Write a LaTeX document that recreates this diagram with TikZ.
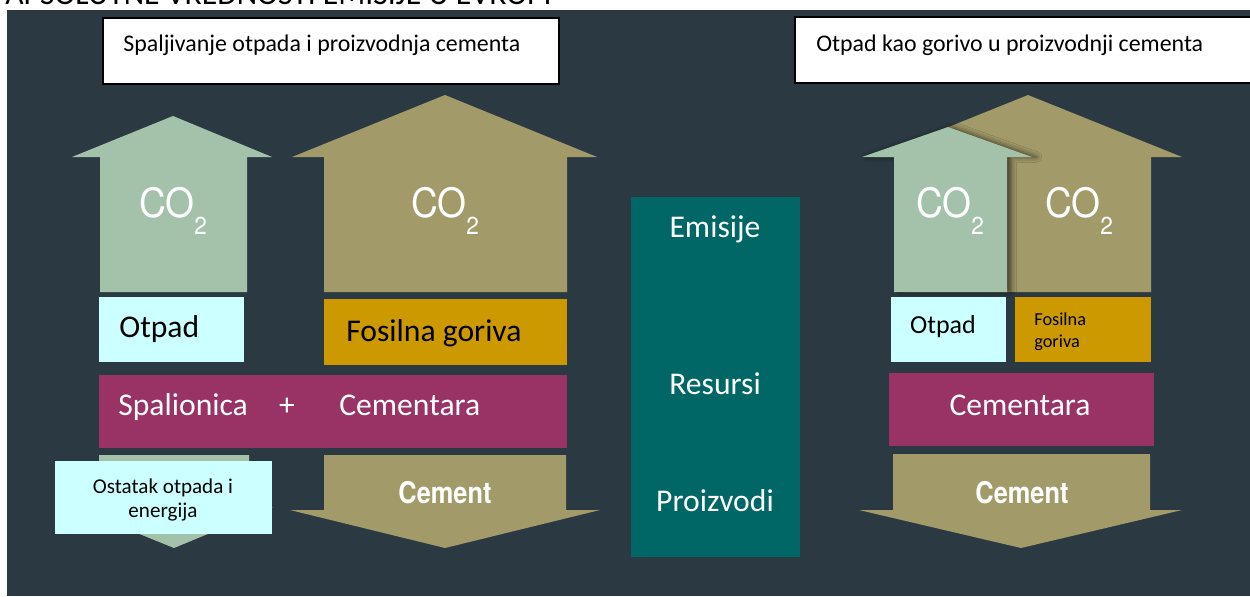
\documentclass[tikz,border=0pt]{standalone}
\usepackage{fontspec}
\setmainfont{Carlito}
\newfontfamily\cofont[FakeStretch=0.92]{TeX Gyre Heros}
\newfontfamily\cementfont[FakeStretch=0.85]{TeX Gyre Heros}
\usetikzlibrary{shadows.blur}
\definecolor{bgslate}{RGB}{43,58,66}
\definecolor{sage}{RGB}{164,194,170}
\definecolor{khaki}{RGB}{163,154,105}
\definecolor{paleaqua}{RGB}{204,255,255}
\definecolor{fuelgold}{RGB}{204,153,0}
\definecolor{plantplum}{RGB}{153,51,102}
\definecolor{legendteal}{RGB}{0,102,102}
\newcommand{\cotwo}{CO\raisebox{-10.2pt}{\fontsize{14}{15}\selectfont 2}}

\begin{document}
\begin{tikzpicture}[x=0.02cm,y=-0.02cm,
		titlebox/.style={draw=black, line width=1.1pt, fill=white, inner sep=0pt},
		fillbox/.style={draw=none, inner sep=0pt},
		bigtext/.style={font=\fontsize{18}{21}\selectfont},
		titletext/.style={font=\fontsize{13.6}{16}\selectfont, inner sep=0pt},
		cotext/.style={text=white, font=\cofont\fontsize{23}{25}\selectfont, inner sep=0pt},
		cementtext/.style={text=white, font=\cementfont\bfseries\fontsize{17}{19}\selectfont, inner sep=0pt}]
	\useasboundingbox (0,0) rectangle (1250,596);
	\begin{scope}
		\clip (0,0) rectangle (1250,10);
		\node[bigtext, anchor=base west, inner sep=0pt] (heading) at (5,4.5) {APSOLUTNE VREDNOSTI EMISIJE U EVROPI};
	\end{scope}
	\fill[bgslate] (7,10) rectangle (1250,596);

	\node[titlebox, minimum width=9.12cm, minimum height=1.32cm] (titleL) at (331,51) {};
	\node[titlebox, minimum width=9.16cm, minimum height=1.32cm] (titleR) at (1024,50) {};
	\node[titletext, anchor=west] (titleLtext) at (123,45) {Spaljivanje otpada i proizvodnja cementa};
	\node[titletext, anchor=west] (titleRtext) at (816,45) {Otpad kao gorivo u proizvodnji cementa};

	\fill[sage] (100,292) -- (100,157) -- (72,157) -- (173,116) -- (272,157) -- (247,157) -- (247,292) -- cycle;
	\fill[khaki] (324,292) -- (324,157) -- (292,157) -- (445,95) -- (597,157) -- (567,157) -- (567,292) -- cycle;
	\fill[sage] (99,455) -- (249,455) -- (249,507) -- (273,507) -- (174,548) -- (73,507) -- (99,507) -- cycle;
	\fill[khaki] (324,455) -- (566,455) -- (566,510) -- (600,510) -- (445,548) -- (290,510) -- (324,510) -- cycle;
	\fill[khaki] (905,292) -- (905,157) -- (874,157) -- (1028,95) -- (1182,157) -- (1151,157) -- (1151,292) -- cycle;
	\fill[sage, blur shadow={shadow xshift=2.5pt, shadow yshift=0pt, shadow blur radius=3pt, shadow opacity=60}] (894,292) -- (894,157) -- (862,157) -- (948,127) -- (1032,157) -- (1007,157) -- (1007,292) -- cycle;
	\fill[khaki] (893,454) -- (1150,454) -- (1150,510) -- (1182,510) -- (1021,548) -- (859,510) -- (893,510) -- cycle;

	\node[cotext, anchor=base] (coL1) at (173,217) {\cotwo};
	\node[cotext, anchor=base] (coL2) at (445,217) {\cotwo};
	\node[cotext, anchor=base] (coR1) at (950,217) {\cotwo};
	\node[cotext, anchor=base] (coR2) at (1079,217) {\cotwo};

	\node[fillbox, fill=paleaqua, minimum width=2.9cm, minimum height=1.3cm] (wasteL) at (171.5,329.5) {};
	\node[fillbox, fill=fuelgold, minimum width=4.86cm, minimum height=1.32cm] (fuelL) at (445.5,332) {};
	\node[fillbox, fill=plantplum, minimum width=9.36cm, minimum height=1.46cm] (plantL) at (333,411.5) {};
	\node[fillbox, fill=paleaqua, minimum width=4.34cm, minimum height=1.46cm] (restL) at (163.5,497.5) {};
	\node[bigtext, anchor=base west, inner sep=0pt] at (119,337) {Otpad};
	\node[bigtext, anchor=base west, inner sep=0pt] at (346,341) {Fosilna goriva};
	\node[bigtext, text=white, anchor=base west, inner sep=0pt] (incinerator) at (118,415) {Spalionica};
	\node[bigtext, text=white, anchor=base, inner sep=0pt] (plus) at (287,415) {+};
	\node[bigtext, text=white, anchor=base west, inner sep=0pt] (cementplantL) at (339,415) {Cementara};
	\node[align=center, font=\fontsize{12}{14.2}\selectfont, inner sep=0pt] (restLtext) at (163,500) {Ostatak otpada i\\energija};
	\node[cementtext] (cementL) at (445,493) {Cement};

	\node[fillbox, fill=legendteal, minimum width=3.38cm, minimum height=7.2cm] (legend) at (715.5,377) {};
	\node[bigtext, text=white, anchor=base, inner sep=0pt] (emissions) at (715,237) {Emisije};
	\node[bigtext, text=white, anchor=base, inner sep=0pt] (resources) at (715,394) {Resursi};
	\node[bigtext, text=white, anchor=base, inner sep=0pt] (products) at (715,511) {Proizvodi};

	\node[fillbox, fill=paleaqua, minimum width=2.3cm, minimum height=1.3cm] (wasteR) at (948.5,329.5) {};
	\node[fillbox, fill=fuelgold, minimum width=2.72cm, minimum height=1.3cm] (fuelR) at (1083,329.5) {};
	\node[fillbox, fill=plantplum, minimum width=5.3cm, minimum height=1.46cm] (plantR) at (1021.5,409.5) {};
	\node[font=\fontsize{14.8}{17}\selectfont, anchor=base, inner sep=0pt] at (943,333) {Otpad};
	\node[font=\fontsize{10.4}{12.5}\selectfont, anchor=base west, inner sep=0pt] at (1034,325) {Fosilna};
	\node[font=\fontsize{10.4}{12.5}\selectfont, anchor=base west, inner sep=0pt] at (1034,347) {goriva};
	\node[bigtext, text=white, anchor=base, inner sep=0pt] (cementplantR) at (1020,415) {Cementara};
	\node[cementtext] (cementR) at (1022,493) {Cement};
\end{tikzpicture}
\end{document}
